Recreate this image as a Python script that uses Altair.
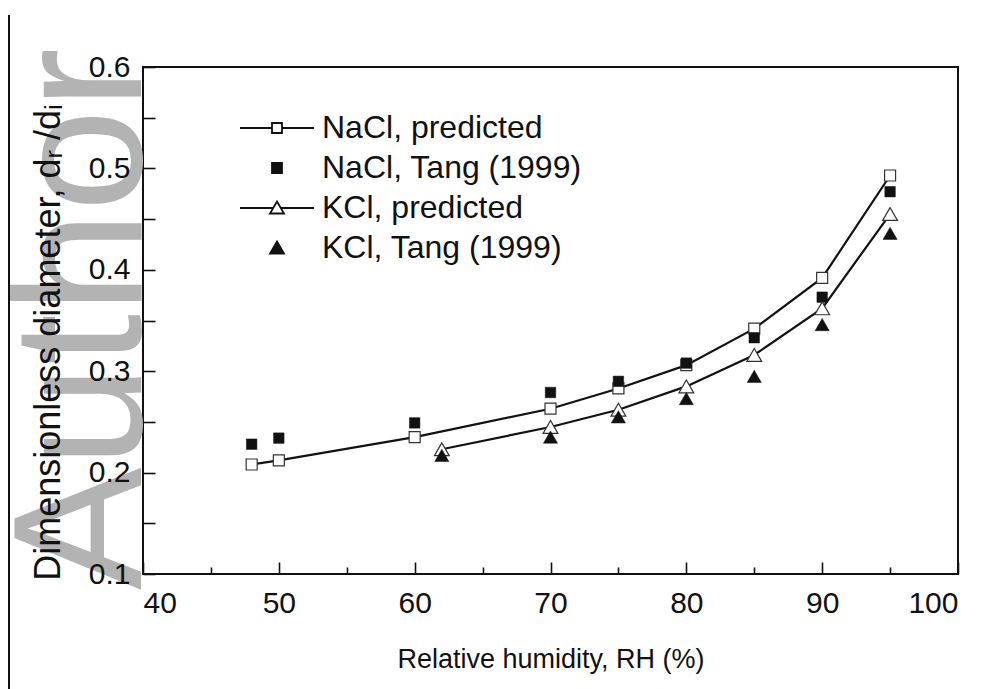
import altair as alt
import pandas as pd

# ---- data ----
rh_nacl = [48, 50, 60, 70, 75, 80, 85, 90, 95]
nacl_predicted = [0.208, 0.212, 0.235, 0.263, 0.283, 0.306, 0.342, 0.392, 0.493]
nacl_tang = [0.228, 0.234, 0.249, 0.279, 0.290, 0.308, 0.333, 0.373, 0.477]

rh_kcl = [62, 70, 75, 80, 85, 90, 95]
kcl_predicted = [0.223, 0.245, 0.262, 0.285, 0.316, 0.362, 0.455]
kcl_tang = [0.217, 0.235, 0.255, 0.273, 0.295, 0.346, 0.436]

series_names = ["NaCl, predicted", "NaCl, Tang (1999)", "KCl, predicted", "KCl, Tang (1999)"]

x_major = [40, 50, 60, 70, 80, 90, 100]
x_minor = [45, 55, 65, 75, 85, 95]
y_major = [0.1, 0.2, 0.3, 0.4, 0.5, 0.6]
y_all_ticks = [0.1, 0.15, 0.2, 0.25, 0.3, 0.35, 0.4, 0.45, 0.5, 0.55, 0.6]

x_title = "Relative humidity, RH (%)"
y_title = "Dimensionless diameter, dᵣ /dᵢ"
watermark = "Author"

# ---- tables ----
rows = []
for x, v in zip(rh_nacl, nacl_predicted):
    rows.append({"series": series_names[0], "rh": x, "d": v})
for x, v in zip(rh_nacl, nacl_tang):
    rows.append({"series": series_names[1], "rh": x, "d": v})
for x, v in zip(rh_kcl, kcl_predicted):
    rows.append({"series": series_names[2], "rh": x, "d": v})
for x, v in zip(rh_kcl, kcl_tang):
    rows.append({"series": series_names[3], "rh": x, "d": v})
df = pd.DataFrame(rows)

W, H = 815, 507
FONT = "Liberation Sans"

xs = alt.Scale(domain=[40, 100], nice=False, zero=False)
ys = alt.Scale(domain=[0.1, 0.6], nice=False, zero=False)

main_x_axis = alt.Axis(values=x_major, ticks=False, domain=False, grid=False,
                       labelFontSize=30, labelFont=FONT, labelColor="#111",
                       labelPadding=14, title=x_title, titleFont=FONT,
                       titleFontSize=27, titleFontWeight="normal", titleColor="#111",
                       titleX=W / 2, titleY=93, titleBaseline="alphabetic",
                       zindex=1)
main_y_axis = alt.Axis(values=y_major, ticks=False, domain=False, grid=False,
                       format=".1f", labelFontSize=30, labelFont=FONT,
                       labelColor="#111", labelPadding=13, title=y_title,
                       titleFont=FONT, titleFontSize=36, titleFontWeight="normal",
                       titleColor="#111", titleX=-95, titleY=275,
                       titleAngle=270, titleAlign="center", titleBaseline="middle",
                       zindex=1)

# inward ticks: axes on the opposite side, shifted across the plot
x_major_ticks = alt.Axis(orient="top", offset=-H, values=x_major, labels=False,
                         domain=False, grid=False, tickSize=12, tickWidth=1.6,
                         tickColor="#111", title=None)
x_minor_ticks = alt.Axis(orient="top", offset=-H, values=x_minor, labels=False,
                         domain=False, grid=False, tickSize=7, tickWidth=1.6,
                         tickColor="#111", title=None)
y_inner_ticks = alt.Axis(orient="right", offset=-W, values=y_all_ticks, labels=False,
                         domain=False, grid=False, tickSize=12, tickWidth=1.6,
                         tickColor="#111", title=None)


def sel(name):
    return alt.datum.series == name


base = alt.Chart(df)

nacl_line = base.transform_filter(sel(series_names[0])).mark_line(
    color="#111", strokeWidth=2.2).encode(
    x=alt.X("rh:Q", scale=xs, axis=main_x_axis),
    y=alt.Y("d:Q", scale=ys, axis=main_y_axis))

nacl_open = base.transform_filter(sel(series_names[0])).mark_point(
    shape="square", filled=True, fill="white", stroke="#333", strokeWidth=1.2,
    size=121, opacity=1).encode(
    x=alt.X("rh:Q", scale=xs, axis=x_major_ticks),
    y=alt.Y("d:Q", scale=ys, axis=y_inner_ticks))

nacl_filled = base.transform_filter(sel(series_names[1])).mark_point(
    shape="square", filled=True, fill="#111", stroke="#111", strokeWidth=0.5,
    size=110, opacity=1).encode(
    x=alt.X("rh:Q", scale=xs, axis=x_minor_ticks),
    y=alt.Y("d:Q", scale=ys, axis=None))

kcl_line = base.transform_filter(sel(series_names[2])).mark_line(
    color="#111", strokeWidth=2.2).encode(
    x=alt.X("rh:Q", scale=xs, axis=None),
    y=alt.Y("d:Q", scale=ys, axis=None))

kcl_open = base.transform_filter(sel(series_names[2])).mark_point(
    shape="triangle-up", filled=True, fill="white", stroke="#333", strokeWidth=1.2,
    size=220, opacity=1).encode(
    x=alt.X("rh:Q", scale=xs, axis=None),
    y=alt.Y("d:Q", scale=ys, axis=None))

kcl_filled = base.transform_filter(sel(series_names[3])).mark_point(
    shape="triangle-up", filled=True, fill="#111", stroke="#111", strokeWidth=0.5,
    size=200, opacity=1).encode(
    x=alt.X("rh:Q", scale=xs, axis=None),
    y=alt.Y("d:Q", scale=ys, axis=None))

# legend symbols: line + marker drawn as one path per entry
legend_paths = [
    "M-7.4,0H-1M1,0H7.4M-1,-1H1V1H-1Z",
    "M-1,-1H1V1H-1Z",
    "M-7.4,0H-0.76M0.76,0H7.4M0,-1.3L1.4,1.1H-1.4Z",
    "M0,-1.3L1.4,1.1H-1.4Z",
]
legend_fills = ["white", "#111", "white", "#111"]
legend_strokes = ["#111", "#111", "#111", "#111"]
legend_def = dict(orient="none", legendX=118, legendY=45, title=None,
                  labelFontSize=32, labelFont=FONT, labelColor="#111",
                  symbolSize=100, symbolStrokeWidth=1.8,
                  labelOffset=29, rowPadding=8, labelLimit=600, padding=0,
                  symbolOffset=0)
legend_layer = base.transform_filter("false").mark_point(
    filled=True, strokeWidth=1.8, size=100, opacity=1).encode(
    shape=alt.Shape("series:N", scale=alt.Scale(domain=series_names, range=legend_paths),
                    legend=alt.Legend(**legend_def)),
    fill=alt.Fill("series:N", scale=alt.Scale(domain=series_names, range=legend_fills),
                  legend=alt.Legend(**legend_def)),
    stroke=alt.Stroke("series:N", scale=alt.Scale(domain=series_names, range=legend_strokes),
                      legend=alt.Legend(**legend_def)))

mark_df = pd.DataFrame({"t": [watermark]})
watermark_layer = alt.Chart(mark_df).mark_text(
    font=FONT, fontSize=184, color="#b3b3b3", angle=270, align="left",
    baseline="alphabetic").encode(
    text="t:N", x=alt.value(-2), y=alt.value(523))

edge_rule = alt.Chart(mark_df).mark_rule(color="#111", strokeWidth=2).encode(
    x=alt.value(-134), y=alt.value(-52), y2=alt.value(622))

chart = alt.layer(
    watermark_layer, edge_rule,
    nacl_line, nacl_open, nacl_filled,
    kcl_line, kcl_open, kcl_filled,
    legend_layer,
).resolve_axis(x="independent", y="independent").properties(
    width=W, height=H,
    autosize=alt.AutoSizeParams(type="none"),
    padding={"left": 143, "top": 67, "right": 31, "bottom": 115},
    background="white",
).configure_view(stroke="#111", strokeWidth=2)

chart.save("out.html", embed_options={"renderer": "svg", "actions": False})
